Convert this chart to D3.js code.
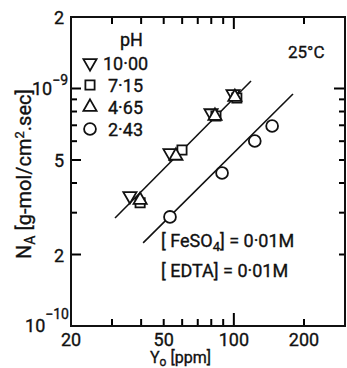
<!DOCTYPE html>
<html>
<head>
<meta charset="utf-8">
<script src="https://cdn.jsdelivr.net/npm/d3@7"></script>
<style>
  body { margin: 0; background: #fff; }
  svg text { font-family: Roboto, "Liberation Sans", Arial, sans-serif; fill: #111; stroke: #111; stroke-width: 0.35; }
</style>
</head>
<body>
<svg id="chart"></svg>
<script>
const WIDTH = 347;
const HEIGHT = 368;

// ppm values for each pH series
const ph10X = [35.8, 53.2, 79.8, 99.2];
const ph10Y = [3.53e-10, 5.35e-10, 7.88e-10, 9.48e-10];
const ph715X = [39.6, 59.9, 83.8, 103];
const ph715Y = [3.30e-10, 5.51e-10, 7.66e-10, 9.12e-10];
const ph465X = [39.6, 56.4, 83, 101];
const ph465Y = [3.39e-10, 5.2e-10, 7.66e-10, 9.2e-10];
const ph243X = [53.2, 89, 123, 146];
const ph243Y = [2.88e-10, 4.41e-10, 6.01e-10, 6.95e-10];

// fitted lines, end points
const upperLineX = [30.9, 118.5];
const upperLineY = [2.85e-10, 1.076e-9];
const lowerLineX = [40.8, 179.4];
const lowerLineY = [2.24e-10, 9.48e-10];

const legendLabels = ["10·00", "7·15", "4·65", "2·43"];
const xTickLabels = [20, 50, 100, 200];
const xMinor = [30, 40, 50, 60, 70, 80, 90, 200];
const yMajor = [2e-10, 5e-10, 1e-9, 2e-9];
const yMinor = [3e-10, 4e-10, 6e-10, 7e-10, 8e-10, 9e-10];

const x = d3.scaleLog().domain([20, 300]).range([71, 345]);
const y = d3.scaleLog().domain([1e-10, 2e-9]).range([326, 17]);

const $svg = d3.select("#chart").attr("width", WIDTH).attr("height", HEIGHT);

// tick marks drawn straight from the scales
function xTicks(values, yPos, len) {
  $svg.append("g").selectAll("line").data(values).enter().append("line")
    .attr("x1", d => x(d)).attr("x2", d => x(d))
    .attr("y1", yPos).attr("y2", yPos + len)
    .attr("stroke", "#000").attr("stroke-width", 2);
}

function yTicks(values, xPos, len) {
  $svg.append("g").selectAll("line").data(values).enter().append("line")
    .attr("y1", d => y(d)).attr("y2", d => y(d))
    .attr("x1", xPos).attr("x2", xPos + len)
    .attr("stroke", "#000").attr("stroke-width", 2);
}

function drawAxes() {
  const [x0, x1] = x.range();
  const [yb, yt] = y.range();
  xTicks(xMinor, yb, -7);
  xTicks([100], yb, -13);
  xTicks(xMinor, yt, 7);
  xTicks([100], yt, 12);
  yTicks(yMinor, x0, 6);
  yTicks(yMajor, x0, 10);
  yTicks(yMinor.concat([2e-10, 5e-10]), x1, -6);
  yTicks([1e-9], x1, -11);

  // frame
  $svg.append("rect")
    .attr("x", x0).attr("y", yt)
    .attr("width", x1 - x0).attr("height", yb - yt)
    .attr("fill", "none").attr("stroke", "#111").attr("stroke-width", 2);

  // x tick labels
  $svg.selectAll(".xlab").data(xTickLabels).enter().append("text")
    .attr("x", d => x(d)).attr("y", 346)
    .attr("text-anchor", "middle").attr("font-size", 18)
    .text(d => d);

  // y tick labels
  const yl = $svg.append("g").attr("font-size", 18);
  yl.append("text").attr("x", 64).attr("y", y(2e-9) + 7).attr("text-anchor", "end").text("2");
  yl.append("text").attr("x", 64).attr("y", y(5e-10) + 7).attr("text-anchor", "end").text("5");
  yl.append("text").attr("x", 64).attr("y", y(2e-10) + 7).attr("text-anchor", "end").text("2");
  const t9 = yl.append("text").attr("x", 68).attr("y", y(1e-9) + 7).attr("text-anchor", "end");
  t9.append("tspan").text("10");
  t9.append("tspan").attr("dy", -10).attr("font-size", 14).text("−9");
  const t10 = yl.append("text").attr("x", 69).attr("y", y(1e-10) + 6).attr("text-anchor", "end");
  t10.append("tspan").text("10");
  t10.append("tspan").attr("dy", -13).attr("font-size", 14).text("−10");

  // axis titles
  const xtl = $svg.append("text").attr("x", 150).attr("y", 363).attr("font-size", 16);
  xtl.append("tspan").text("Y");
  xtl.append("tspan").attr("dy", 3).attr("font-size", 12).text("o");
  xtl.append("tspan").attr("dy", -3).text(" [ppm]");

  const ytl = $svg.append("text")
    .attr("transform", "translate(31,259) rotate(-90)")
    .attr("font-size", 20);
  ytl.append("tspan").text("N");
  ytl.append("tspan").attr("dy", 4).attr("font-size", 14).text("A");
  ytl.append("tspan").attr("dy", -4).text(" [g-mol/cm");
  ytl.append("tspan").attr("dy", -7).attr("font-size", 13).text("2");
  ytl.append("tspan").attr("dy", 7).text(".sec]");
}

const symDown = d3.symbol().type(d3.symbolTriangle).size(75);
const symUp = d3.symbol().type(d3.symbolTriangle).size(75);
const symSquare = d3.symbol().type(d3.symbolSquare).size(85);
const symCircle = d3.symbol().type(d3.symbolCircle).size(110);

const series = [
  { xs: ph10X, ys: ph10Y, sym: symDown, rot: 180 },
  { xs: ph715X, ys: ph715Y, sym: symSquare, rot: 0 },
  { xs: ph465X, ys: ph465Y, sym: symUp, rot: 0 },
  { xs: ph243X, ys: ph243Y, sym: symCircle, rot: 0 }
];

function drawLines() {
  const line = d3.line().x(d => x(d[0])).y(d => y(d[1]));
  [[upperLineX, upperLineY], [lowerLineX, lowerLineY]].forEach(([xs, ys]) => {
    $svg.append("path")
      .attr("d", line(d3.zip(xs, ys)))
      .attr("fill", "none").attr("stroke", "#111").attr("stroke-width", 1.6);
  });
}

function drawPoints() {
  series.forEach(s => {
    $svg.append("g").selectAll("path").data(d3.zip(s.xs, s.ys)).enter().append("path")
      .attr("d", s.sym())
      .attr("transform", d => `translate(${x(d[0])},${y(d[1])}) rotate(${s.rot})`)
      .attr("fill", "#fff").attr("stroke", "#111").attr("stroke-width", 1.8);
  });
}

function drawLegend() {
  const lg = $svg.append("g");
  lg.append("text").attr("x", 120).attr("y", 46).attr("font-size", 18).text("pH");
  series.forEach((s, i) => {
    const cy = 63 + i * 22;
    lg.append("path").attr("d", s.sym())
      .attr("transform", `translate(90,${cy}) rotate(${s.rot})`)
      .attr("fill", "#fff").attr("stroke", "#111").attr("stroke-width", 1.8);
    lg.append("text").attr("x", i === 0 ? 103 : 108).attr("y", cy + 7)
      .attr("font-size", 18).text(legendLabels[i]);
  });
}

function drawNotes() {
  $svg.append("text").attr("x", 288).attr("y", 58).attr("font-size", 17).text("25°C");
  const n1 = $svg.append("text").attr("x", 161).attr("y", 247).attr("font-size", 18);
  n1.append("tspan").text("[ FeSO");
  n1.append("tspan").attr("dy", 4).attr("font-size", 13).text("4");
  n1.append("tspan").attr("dy", -4).text("] = 0·01M");
  $svg.append("text").attr("x", 161).attr("y", 277).attr("font-size", 18).text("[ EDTA] = 0·01M");
}

drawAxes();
drawLines();
drawPoints();
drawLegend();
drawNotes();
</script>
</body>
</html>
